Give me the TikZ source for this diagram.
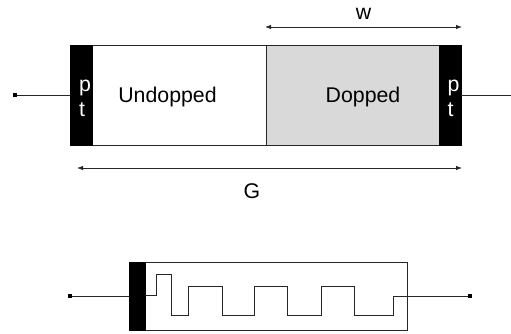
\documentclass[tikz,border=0pt]{standalone}
\usepackage{fontspec}
\setmainfont{Liberation Sans}
\usetikzlibrary{arrows.meta}
\tikzset{
  region/.style={draw=black!85,line width=0.9pt,inner sep=0pt,minimum height=100pt},
  contact/.style={draw=black,fill=black,inner sep=0pt,minimum width=22pt,minimum height=100pt},
  contactlabel/.style={text=white,inner sep=0pt,align=left,font=\fontsize{21.3}{25}\selectfont},
  blockbar/.style={draw=black,fill=black,inner sep=0pt,minimum width=16pt,minimum height=68pt},
  shell/.style={draw=black!85,line width=0.9pt,inner sep=0pt,minimum width=278pt,minimum height=68pt},
  terminal/.style={fill=black,inner sep=0pt,minimum size=4pt},
  wire/.style={draw=black!85,line width=0.9pt},
  span/.style={draw=black!85,line width=0.8pt,{Latex[length=6pt,width=4.5pt]}-{Latex[length=6pt,width=4.5pt]}},
  caption/.style={font=\fontsize{21.3}{22}\selectfont,inner sep=0pt}
}
\begin{document}
\begin{tikzpicture}[x=1pt,y=-1pt]
\useasboundingbox (0,0) rectangle (511,333);
% upper device
\node[region,minimum width=196pt] (undoped) at (168,95) {};
\node[region,fill=black!15,minimum width=173pt] (doped) at (352.5,95) {};
\node[caption] (dopedlabel) at (363,97) {Dopped};
\node[caption] (undopedlabel) at (167.5,97) {Undopped};
\node[contact] (ptl) at (81,95) {};
\node[contact] (ptr) at (450,95) {};
\node[contactlabel] (ptllabel) at (85,98) {p\\t};
\node[contactlabel] (ptrlabel) at (453.5,98) {p\\t};
\node[terminal] (tl) at (15,95) {};
\coordinate (tr) at (511,95);
\draw[wire] (tl) -- (ptl.west);
\draw[wire] (ptr.east) -- (tr);
% dimensions
\coordinate (wa) at (265,27);
\coordinate (wb) at (462,27);
\coordinate (ga) at (77,168);
\coordinate (gb) at (462,168);
\draw[span] (wa) -- (wb);
\draw[span] (ga) -- (gb);
\node[caption] (w) at (363.5,13.5) {w};
\node[caption] (g) at (252,191) {G};
% lower device
\node[shell] (box) at (268,296) {};
\node[blockbar] (bar) at (137,296) {};
\node[terminal] (bl) at (70,296) {};
\node[terminal] (br) at (470,296) {};
\draw[wire] (bl) -- (bar.west);
\coordinate (meander) at (393,296);
\draw[wire] (meander) -- (br);
\draw[wire] (bar.east |- 0,295) -- (156,295) -- (156,274) -- (171,274) -- (171,315)
  -- (188,315) -- (188,286) -- (222,286) -- (222,315) -- (254,315) -- (254,286)
  -- (287,286) -- (287,315) -- (321,315) -- (321,286) -- (354,286) -- (354,315)
  -- (393,315) -- (meander);
\end{tikzpicture}
\end{document}
